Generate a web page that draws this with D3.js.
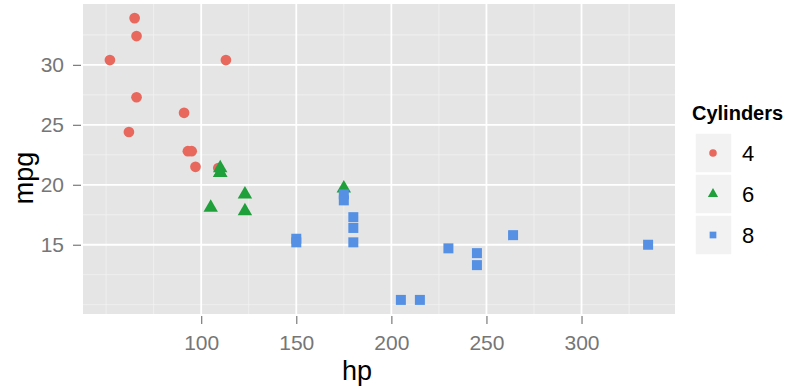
<!DOCTYPE html>
<html>
<head>
<meta charset="utf-8">
<script src="https://cdn.jsdelivr.net/npm/d3@7"></script>
<style>
  body { margin: 0; background: #fff; }
  text { font-family: "Liberation Sans", Arial, sans-serif; }
</style>
</head>
<body>
<svg id="chart"></svg>
<script>
// mtcars: hp vs mpg, coloured by cylinders
var hp  = [110, 110, 93, 110, 175, 105, 245, 62, 95, 123, 123, 180, 180, 180, 205, 215,
           230, 66, 52, 65, 97, 150, 150, 245, 175, 66, 91, 113, 264, 175, 335, 109];
var mpg = [21.0, 21.0, 22.8, 21.4, 18.7, 18.1, 14.3, 24.4, 22.8, 19.2, 17.8, 16.4, 17.3, 15.2, 10.4, 10.4,
           14.7, 32.4, 30.4, 33.9, 21.5, 15.5, 15.2, 13.3, 19.2, 27.3, 26.0, 30.4, 15.8, 19.7, 15.0, 21.4];
var cyl = [6, 6, 4, 6, 8, 6, 8, 4, 4, 6, 6, 8, 8, 8, 8, 8,
           8, 4, 4, 4, 4, 8, 8, 8, 8, 4, 4, 4, 8, 6, 8, 4];

var groups = ["4", "6", "8"];
var xTicks = [100, 150, 200, 250, 300];
var xMinor = [50, 75, 125, 175, 225, 275, 325];
var yTicks = [15, 20, 25, 30];
var yMinor = [10, 12.5, 17.5, 22.5, 27.5, 32.5];

var width = 798, height = 389;
var panel = {left: 83, right: 675, top: 4, bottom: 314};

var svg = d3.select("#chart").attr("width", width).attr("height", height);

// ggplot style 5% expansion
var xr = d3.extent(hp), yr = d3.extent(mpg);
var xpad = (xr[1] - xr[0]) * 0.05, ypad = (yr[1] - yr[0]) * 0.05;
var x = d3.scaleLinear().domain([xr[0] - xpad, xr[1] + xpad]).range([panel.left, panel.right]);
var y = d3.scaleLinear().domain([yr[0] - ypad, yr[1] + ypad]).range([panel.bottom, panel.top]);

var color = d3.scaleOrdinal().domain(groups).range(["#e8685d", "#1fa03b", "#5590e4"]);
var shape = d3.scaleOrdinal().domain(groups).range([d3.symbolCircle, d3.symbolTriangle, d3.symbolSquare]);
var sizes = {"4": 90, "6": 90, "8": 100};

//-------------------panel + grid----------------
svg.append("rect")
  .attr("x", panel.left).attr("y", panel.top)
  .attr("width", panel.right - panel.left).attr("height", panel.bottom - panel.top)
  .attr("fill", "#e5e5e5");

var grid = svg.append("g");
grid.selectAll(".xmin").data(xMinor).enter().append("line")
  .attr("x1", d => x(d)).attr("x2", d => x(d))
  .attr("y1", panel.top).attr("y2", panel.bottom)
  .attr("stroke", "#f2f2f2").attr("stroke-width", 0.8);
grid.selectAll(".ymin").data(yMinor).enter().append("line")
  .attr("y1", d => y(d)).attr("y2", d => y(d))
  .attr("x1", panel.left).attr("x2", panel.right)
  .attr("stroke", "#f2f2f2").attr("stroke-width", 0.8);
grid.selectAll(".xmaj").data(xTicks).enter().append("line")
  .attr("x1", d => x(d)).attr("x2", d => x(d))
  .attr("y1", panel.top).attr("y2", panel.bottom)
  .attr("stroke", "#fff").attr("stroke-width", 1.8);
grid.selectAll(".ymaj").data(yTicks).enter().append("line")
  .attr("y1", d => y(d)).attr("y2", d => y(d))
  .attr("x1", panel.left).attr("x2", panel.right)
  .attr("stroke", "#fff").attr("stroke-width", 1.8);

//-------------------axes----------------
var xAxis = svg.append("g")
  .attr("transform", "translate(0," + (panel.bottom + 2) + ")")
  .call(d3.axisBottom(x).tickValues(xTicks).tickSize(8).tickPadding(11));
var yAxis = svg.append("g")
  .attr("transform", "translate(" + (panel.left - 2) + ",0)")
  .call(d3.axisLeft(y).tickValues(yTicks).tickSize(8).tickPadding(9));
[xAxis, yAxis].forEach(function(a) {
  a.select(".domain").remove();
  a.selectAll(".tick line").attr("stroke", "#7a7a7a").attr("stroke-width", 1.2);
  a.selectAll(".tick text").attr("fill", "#767676")
    .style("font-size", "21px").style("font-family", "'Liberation Sans', Arial, sans-serif");
});

svg.append("text")
  .attr("x", 357).attr("y", 380)
  .attr("text-anchor", "middle")
  .style("font-size", "27px")
  .text("hp");
svg.append("text")
  .attr("transform", "translate(33,178) rotate(-90)")
  .attr("text-anchor", "middle")
  .style("font-size", "27px")
  .text("mpg");

//-------------------points----------------
// drawn group by group (4, then 6, then 8) so later groups sit on top
var idx = d3.range(hp.length).sort((a, b) => cyl[a] - cyl[b] || a - b);
svg.append("g").selectAll("path")
  .data(idx).enter().append("path")
  .attr("transform", i => "translate(" + x(hp[i]) + "," + y(mpg[i]) + ")")
  .attr("d", i => d3.symbol().type(shape(String(cyl[i]))).size(sizes[cyl[i]])())
  .attr("fill", i => color(String(cyl[i])));

//-------------------legend----------------
var legend = svg.append("g");
legend.append("text")
  .attr("x", 692).attr("y", 120)
  .style("font-size", "20px").style("font-weight", "bold")
  .text("Cylinders");
var rowY = [153, 194, 235];
var rows = legend.selectAll(".row").data(groups).enter().append("g")
  .attr("transform", (d, i) => "translate(0," + rowY[i] + ")");
rows.append("rect")
  .attr("x", 695).attr("y", -20).attr("width", 37).attr("height", 40)
  .attr("fill", "#f2f2f2").attr("stroke", "#fff").attr("stroke-width", 1.5);
rows.append("path")
  .attr("transform", "translate(713,0)")
  .attr("d", d => d3.symbol().type(shape(d)).size(45)())
  .attr("fill", d => color(d));
rows.append("text")
  .attr("x", 742).attr("y", 8)
  .style("font-size", "22px")
  .text(d => d);
</script>
</body>
</html>
